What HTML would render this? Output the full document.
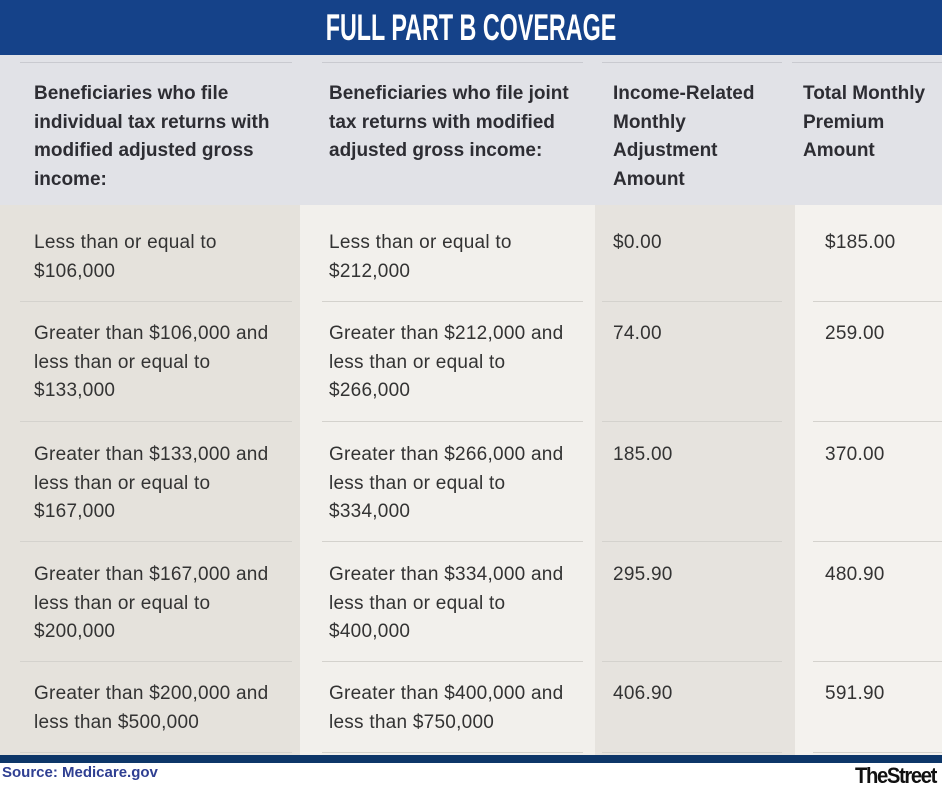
<!DOCTYPE html>
<html><head><meta charset="utf-8"><style>
*{margin:0;padding:0;box-sizing:border-box}
body{width:942px;height:800px;position:relative;background:#fff;font-family:"Liberation Sans",Arial,sans-serif;overflow:hidden}
.a{position:absolute}
.t{position:absolute;font-size:19px;line-height:28.5px;color:#333;white-space:nowrap;letter-spacing:0.25px}
.h{font-weight:bold;color:#2d2d33;line-height:28.5px;letter-spacing:0}
.l{position:absolute;height:1px;background:#d4d2cd}
</style></head><body>
<div class="a" style="left:0;top:0;width:942px;height:55px;background:#154289"></div>
<div class="a" style="left:0;top:7px;width:942px;text-align:center;color:#fff;font:bold 37px/42px 'Liberation Sans',sans-serif;transform:scaleX(0.63)">FULL PART B COVERAGE</div>
<div class="a" style="left:0;top:55px;width:942px;height:150px;background:#e1e2e7"></div>
<div class="a" style="left:0;top:205px;width:300px;height:550px;background:#e5e2dc"></div>
<div class="a" style="left:300px;top:205px;width:295px;height:550px;background:#f2f0ec"></div>
<div class="a" style="left:595px;top:205px;width:200px;height:550px;background:#e6e3de"></div>
<div class="a" style="left:795px;top:205px;width:147px;height:550px;background:#f4f2ee"></div>
<div class="a" style="left:0;top:755px;width:942px;height:8px;background:#0d3668"></div>
<div class="l" style="left:20px;top:62px;width:272px;background:#c9cad0"></div>
<div class="l" style="left:322px;top:62px;width:261px;background:#c9cad0"></div>
<div class="l" style="left:602px;top:62px;width:180px;background:#c9cad0"></div>
<div class="l" style="left:792px;top:62px;width:150px;background:#c9cad0"></div>
<div class="l" style="left:20px;top:301px;width:272px"></div><div class="l" style="left:322px;top:301px;width:261px"></div><div class="l" style="left:602px;top:301px;width:180px"></div><div class="l" style="left:813px;top:301px;width:129px"></div>
<div class="l" style="left:20px;top:421px;width:272px"></div><div class="l" style="left:322px;top:421px;width:261px"></div><div class="l" style="left:602px;top:421px;width:180px"></div><div class="l" style="left:813px;top:421px;width:129px"></div>
<div class="l" style="left:20px;top:541px;width:272px"></div><div class="l" style="left:322px;top:541px;width:261px"></div><div class="l" style="left:602px;top:541px;width:180px"></div><div class="l" style="left:813px;top:541px;width:129px"></div>
<div class="l" style="left:20px;top:661px;width:272px"></div><div class="l" style="left:322px;top:661px;width:261px"></div><div class="l" style="left:602px;top:661px;width:180px"></div><div class="l" style="left:813px;top:661px;width:129px"></div>
<div class="l" style="left:20px;top:752px;width:272px"></div><div class="l" style="left:322px;top:752px;width:261px"></div><div class="l" style="left:602px;top:752px;width:180px"></div><div class="l" style="left:813px;top:752px;width:129px"></div>

<div class="t h" style="left:34px;top:80px">Beneficiaries who file<br>individual tax returns with<br>modified adjusted gross<br>income:</div>
<div class="t h" style="left:329px;top:80px">Beneficiaries who file joint<br>tax returns with modified<br>adjusted gross income:</div>
<div class="t h" style="left:613px;top:80px">Income-Related<br>Monthly<br>Adjustment<br>Amount</div>
<div class="t h" style="left:803px;top:80px">Total Monthly<br>Premium<br>Amount</div>

<div class="t" style="left:34px;top:229px">Less than or equal to<br>$106,000</div>
<div class="t" style="left:329px;top:229px">Less than or equal to<br>$212,000</div>
<div class="t" style="left:613px;top:229px">$0.00</div>
<div class="t" style="left:825px;top:229px">$185.00</div>

<div class="t" style="left:34px;top:320px">Greater than $106,000 and<br>less than or equal to<br>$133,000</div>
<div class="t" style="left:329px;top:320px">Greater than $212,000 and<br>less than or equal to<br>$266,000</div>
<div class="t" style="left:613px;top:320px">74.00</div>
<div class="t" style="left:825px;top:320px">259.00</div>

<div class="t" style="left:34px;top:441px">Greater than $133,000 and<br>less than or equal to<br>$167,000</div>
<div class="t" style="left:329px;top:441px">Greater than $266,000 and<br>less than or equal to<br>$334,000</div>
<div class="t" style="left:613px;top:441px">185.00</div>
<div class="t" style="left:825px;top:441px">370.00</div>

<div class="t" style="left:34px;top:561px">Greater than $167,000 and<br>less than or equal to<br>$200,000</div>
<div class="t" style="left:329px;top:561px">Greater than $334,000 and<br>less than or equal to<br>$400,000</div>
<div class="t" style="left:613px;top:561px">295.90</div>
<div class="t" style="left:825px;top:561px">480.90</div>

<div class="t" style="left:34px;top:680px">Greater than $200,000 and<br>less than $500,000</div>
<div class="t" style="left:329px;top:680px">Greater than $400,000 and<br>less than $750,000</div>
<div class="t" style="left:613px;top:680px">406.90</div>
<div class="t" style="left:825px;top:680px">591.90</div>

<div class="a" style="left:2px;top:763px;font:bold 15px/20px 'Liberation Sans',sans-serif;color:#2f3f92">Source: Medicare.gov</div>
<div class="a" style="left:855px;top:763px;font:bold 22px/26px 'Liberation Sans',sans-serif;color:#111;letter-spacing:-1.5px;transform:scaleX(0.92);transform-origin:0 0">TheStreet</div>
</body></html>
